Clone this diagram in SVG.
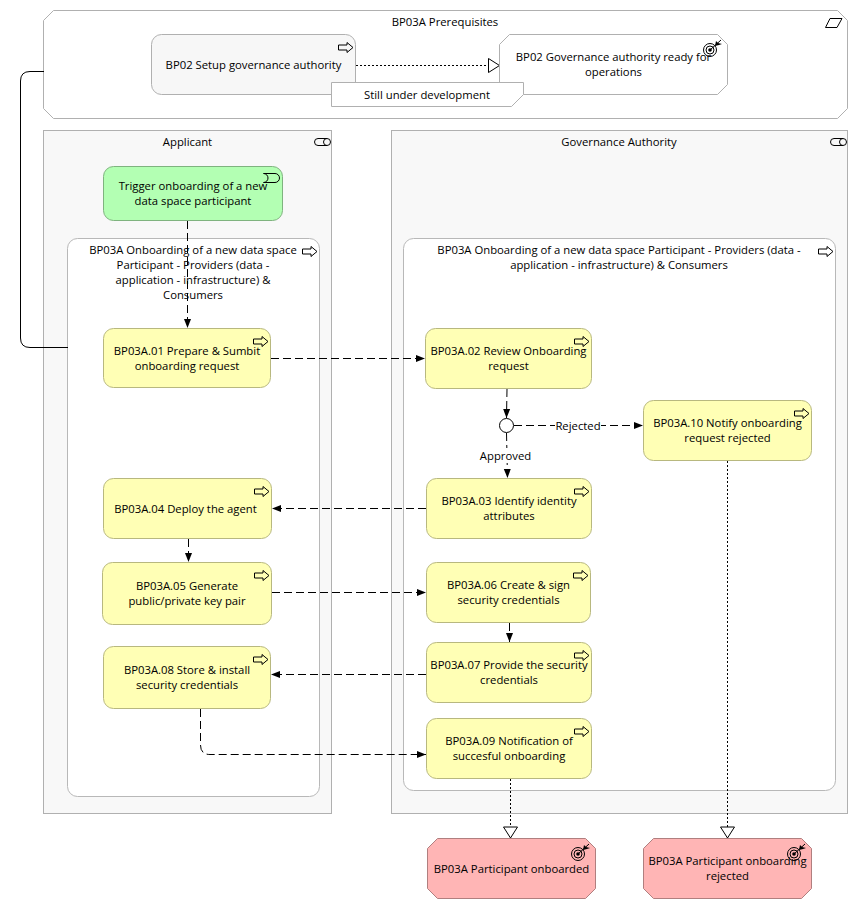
<svg xmlns="http://www.w3.org/2000/svg" width="858" height="909" viewBox="0 0 858 909">
<style>
text{font-family:"Open Sans","Noto Sans","Liberation Sans",sans-serif;font-size:11.3px;fill:#000;text-anchor:middle}
.grp{fill:#f8f8f8;stroke:#b0b0b0;stroke-width:1}
.sub{fill:#fff;stroke:#b8b8b8;stroke-width:1}
.pre{fill:#f7f7f7;stroke:#b0b0b0}
.wht{fill:#fff;stroke:#b0b0b0}
.act{fill:#ffffb5;stroke:#b8b87f}
.trg{fill:#b3ffb3;stroke:#7fb37f}
.pnk{fill:#ffb5b5;stroke:#b07f7f}
.ic{fill:none;stroke:#000;stroke-width:1}
.flow{fill:none;stroke:#000;stroke-width:1;stroke-dasharray:8 4}
.real{fill:none;stroke:#000;stroke-width:1;stroke-dasharray:2 2}
.lbl{fill:#fff;stroke:none}
</style>
<defs>
<marker id="solid" viewBox="0 0 9 8" refX="9" refY="4" markerWidth="9" markerHeight="8" markerUnits="userSpaceOnUse" orient="auto"><path d="M0 0.500L9 4L0 7.500Z" fill="#000"/></marker>
<marker id="open" viewBox="0 0 13 16" refX="12" refY="8" markerWidth="13" markerHeight="16" markerUnits="userSpaceOnUse" orient="auto"><path d="M1 1L12 8L1 15Z" fill="#fff" stroke="#000"/></marker>
<g id="proc"><path class="ic" d="M0.500 3H9V0.500L15 5.500L9 10.500V8H0.500Z"/></g>
<g id="goal"><circle class="ic" cx="0" cy="0" r="6.500"/><circle class="ic" cx="0" cy="0" r="4"/><circle cx="0" cy="0" r="1.800" fill="#000"/><path class="ic" d="M0 0L11 -10"/><path d="M5 -4L6 -9L8 -7L12 -6L9 -5Z" fill="#000"/></g>
<g id="role"><path class="ic" d="M3.500 0.500H12.500A3.500 3.500 0 0 1 12.500 7.500H3.500A3.500 3.500 0 0 1 3.500 0.500ZM12.500 0.500A3.500 3.500 0 0 0 12.500 7.500"/></g>
</defs>

<g id="prereq">
<path class="wht" d="M53.500 10.500H837.500L847.500 20.500V108.500L837.500 118.500H53.500L43.500 108.500V20.500Z"/>
<text x="445" y="26">BP03A Prerequisites</text>
<path class="ic" d="M830 18.500H842L837 27.500H825.500Z"/>
</g>
<g id="applicant">
<rect class="grp" x="43.500" y="130.500" width="288" height="683"/>
<text x="187.500" y="146">Applicant</text>
<use href="#role" x="314.500" y="138"/>
</g>
<g id="authority">
<rect class="grp" x="391.500" y="130.500" width="456" height="683"/>
<text x="619" y="146">Governance Authority</text>
<use href="#role" x="830.500" y="138"/>
</g>
<g id="sub-applicant">
<rect class="sub" x="67.500" y="238.500" width="252" height="558" rx="10"/>
<text x="193" y="254">BP03A Onboarding of a new data space</text>
<text x="193" y="269">Participant - Providers (data -</text>
<text x="193" y="284">application - infrastructure) &amp;</text>
<text x="193" y="299">Consumers</text>
<use href="#proc" x="302" y="246"/>
</g>
<g id="sub-authority">
<rect class="sub" x="403.500" y="238.500" width="432" height="552" rx="10"/>
<text x="619" y="254">BP03A Onboarding of a new data space Participant - Providers (data -</text>
<text x="619" y="269">application - infrastructure) &amp; Consumers</text>
<use href="#proc" x="818" y="246"/>
</g>

<g id="connectors">
<path d="M68 347.500H30Q20.500 347.500 20.500 338V81Q20.500 71.500 30 71.500H44" fill="none" stroke="#000"/>
<path class="real" d="M356 65.500H499.500" marker-end="url(#open)"/>
<path class="flow" d="M187.500 221V328" marker-end="url(#solid)"/>
<path class="flow" d="M271 358.500H425" marker-end="url(#solid)"/>
<path class="flow" d="M507 389L506.500 418" marker-end="url(#solid)"/>
<path class="flow" d="M514 425.500H643" marker-end="url(#solid)"/>
<path class="flow" d="M506.500 433L507.500 478" marker-end="url(#solid)"/>
<path class="flow" d="M426 508.500H272" marker-end="url(#solid)"/>
<path class="flow" d="M188.500 539V562" marker-end="url(#solid)"/>
<path class="flow" d="M272 592.500H426" marker-end="url(#solid)"/>
<path class="flow" d="M509.500 623V642" marker-end="url(#solid)"/>
<path class="flow" d="M426 674.500H271" marker-end="url(#solid)"/>
<path class="flow" d="M200.500 709V745Q200.500 754.500 210 754.500H426" marker-end="url(#solid)"/>
<path class="real" d="M510.500 779V838" marker-end="url(#open)"/>
<path class="real" d="M727.500 461V838" marker-end="url(#open)"/>
<rect class="lbl" x="555" y="418" width="46" height="15"/>
<text x="578" y="430">Rejected</text>
<rect class="lbl" x="479" y="448" width="54" height="15"/>
<text x="505.500" y="460">Approved</text>
</g>

<g id="bp02-setup">
<rect class="pre" x="151.500" y="34.500" width="204" height="60" rx="10"/>
<text x="253.500" y="69">BP02 Setup governance authority</text>
<use href="#proc" x="338" y="42"/>
</g>
<g id="bp02-ready">
<path class="wht" d="M509.500 34.500H717.500L727.500 44.500V84.500L717.500 94.500H509.500L499.500 84.500V44.500Z"/>
<text x="613.500" y="61">BP02 Governance authority ready for</text>
<text x="613.500" y="76">operations</text>
<use href="#goal" x="710" y="50"/>
</g>
<g id="note">
<path class="wht" d="M331.500 82.500H523.500V94.500L511.500 106.500H331.500Z"/>
<text x="427" y="99">Still under development</text>
</g>
<g id="trigger">
<rect class="trg" x="103.500" y="166.500" width="179" height="54" rx="10"/>
<text x="193" y="190">Trigger onboarding of a new</text>
<text x="193" y="205">data space participant</text>
<path class="ic" d="M263.500 173.500H275A4.500 4.500 0 0 1 275 182.500H263.500A4.500 4.500 0 0 0 263.500 173.500Z"/>
</g>
<g id="a01"><rect class="act" x="103.500" y="328.500" width="167" height="59" rx="10"/><text x="187" y="355">BP03A.01 Prepare &amp; Sumbit</text><text x="187" y="370">onboarding request</text><use href="#proc" x="253" y="336"/></g>
<g id="a02"><rect class="act" x="425.500" y="328.500" width="166" height="60" rx="10"/><text x="508.500" y="355">BP03A.02 Review Onboarding</text><text x="508.500" y="370">request</text><use href="#proc" x="574" y="336"/></g>
<g id="junction"><circle cx="506.500" cy="425.500" r="7" fill="#fff" stroke="#000"/></g>
<g id="a10"><rect class="act" x="643.500" y="400.500" width="168" height="60" rx="10"/><text x="727.500" y="427">BP03A.10 Notify onboarding</text><text x="727.500" y="442">request rejected</text><use href="#proc" x="794" y="408"/></g>
<g id="a03"><rect class="act" x="426.500" y="478.500" width="165" height="60" rx="10"/><text x="509" y="505">BP03A.03 Identify identity</text><text x="509" y="520">attributes</text><use href="#proc" x="574" y="486"/></g>
<g id="a04"><rect class="act" x="103.500" y="478.500" width="168" height="60" rx="10"/><text x="185.500" y="513">BP03A.04 Deploy the agent</text><use href="#proc" x="254" y="486"/></g>
<g id="a05"><rect class="act" x="102.500" y="562.500" width="169" height="62" rx="10"/><text x="187" y="590">BP03A.05 Generate</text><text x="187" y="605">public/private key pair</text><use href="#proc" x="254" y="570"/></g>
<g id="a06"><rect class="act" x="426.500" y="562.500" width="164" height="60" rx="10"/><text x="508.500" y="589">BP03A.06 Create &amp; sign</text><text x="508.500" y="604">security credentials</text><use href="#proc" x="573" y="570"/></g>
<g id="a07"><rect class="act" x="426.500" y="642.500" width="165" height="60" rx="10"/><text x="509" y="669">BP03A.07 Provide the security</text><text x="509" y="684">credentials</text><use href="#proc" x="574" y="650"/></g>
<g id="a08"><rect class="act" x="103.500" y="646.500" width="167" height="62" rx="10"/><text x="187" y="674">BP03A.08 Store &amp; install</text><text x="187" y="689">security credentials</text><use href="#proc" x="253" y="654"/></g>
<g id="a09"><rect class="act" x="426.500" y="718.500" width="165" height="60" rx="10"/><text x="509" y="745">BP03A.09 Notification of</text><text x="509" y="760">succesful onboarding</text><use href="#proc" x="574" y="726"/></g>
<g id="g-onboarded"><path class="pnk" d="M437.500 838.500H585.500L595.500 848.500V888.500L585.500 898.500H437.500L427.500 888.500V848.500Z"/><text x="511.500" y="873">BP03A Participant onboarded</text><use href="#goal" x="578" y="854"/></g>
<g id="g-rejected"><path class="pnk" d="M653.500 838.500H801.500L811.500 848.500V888.500L801.500 898.500H653.500L643.500 888.500V848.500Z"/><text x="727.500" y="865">BP03A Participant onboarding</text><text x="727.500" y="880">rejected</text><use href="#goal" x="794" y="854"/></g>
</svg>
